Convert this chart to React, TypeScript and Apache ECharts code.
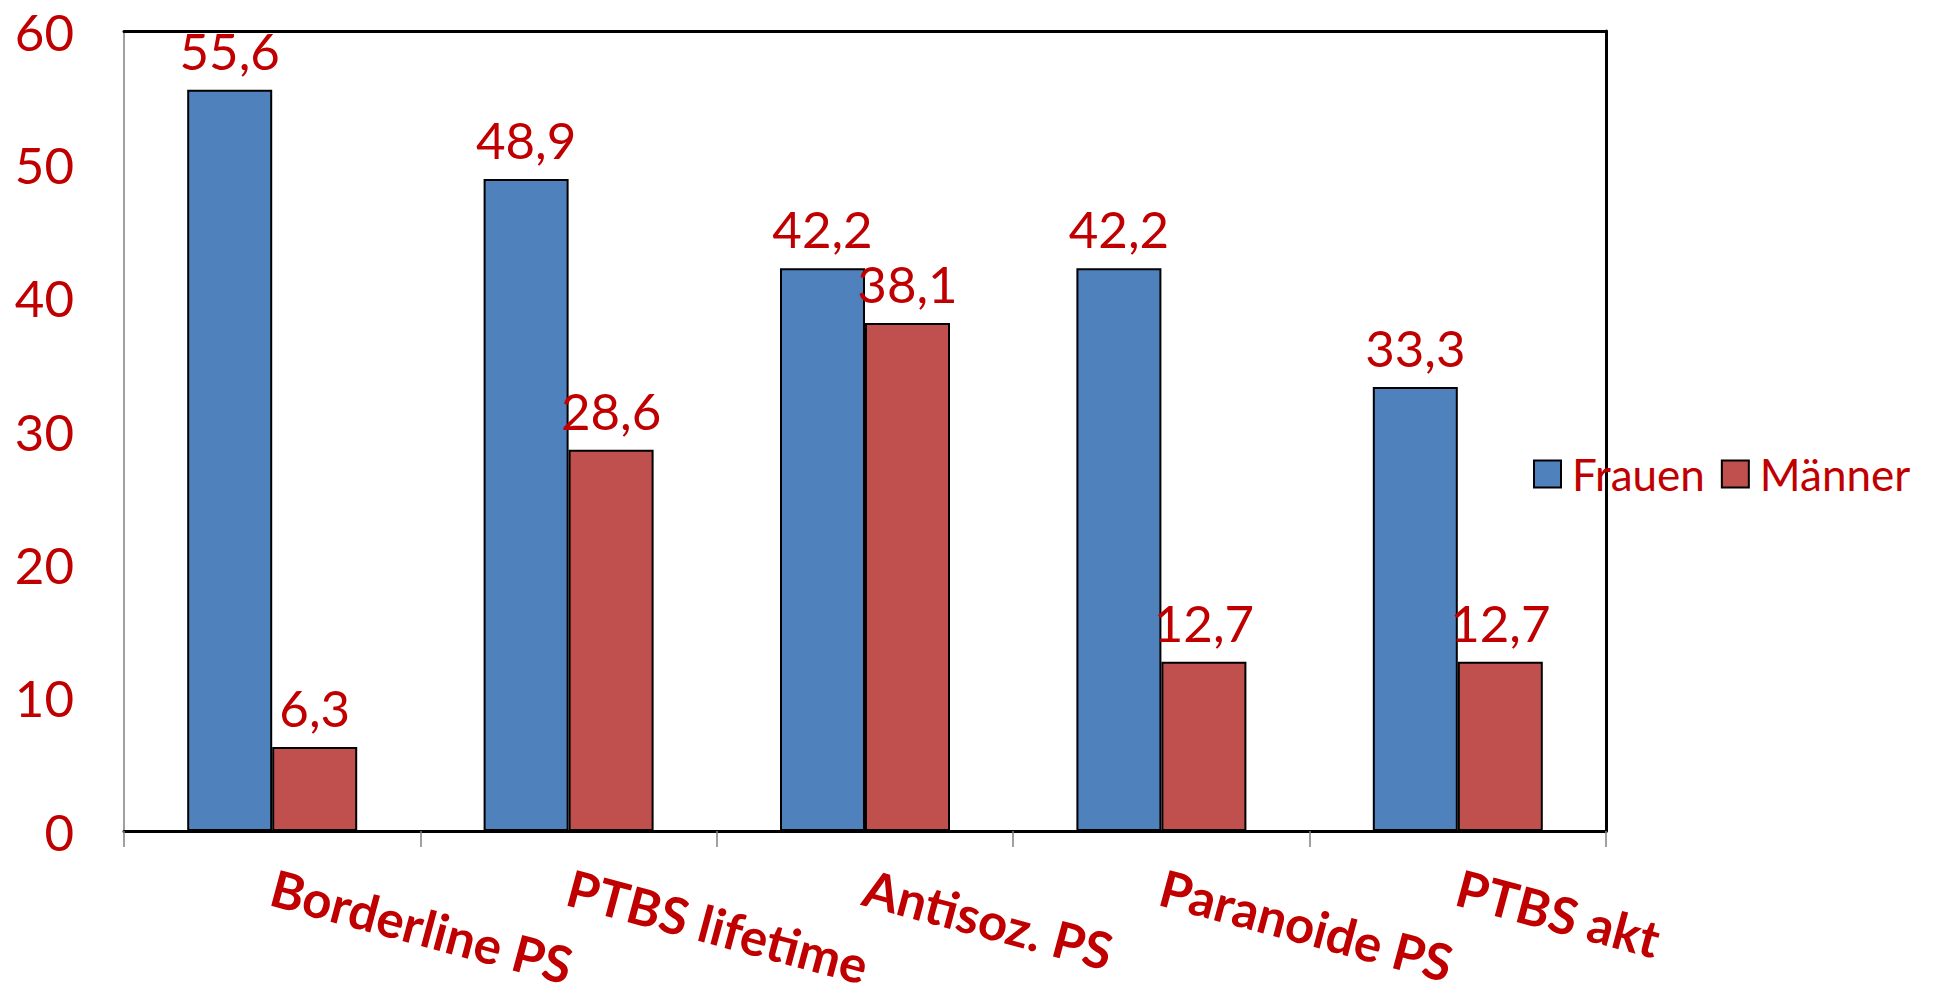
import React, { useEffect, useRef } from "react";
import * as echarts from "echarts";

const categories = ["Borderline PS", "PTBS lifetime", "Antisoz. PS", "Paranoide PS", "PTBS akt"];
const frauen = [55.6, 48.9, 42.2, 42.2, 33.3];
const maenner = [6.3, 28.6, 38.1, 12.7, 12.7];
const seriesNames = ["Frauen", "Männer"];
const yMin = 0;
const yMax = 60;
const yStep = 10;

const RED_TEXT = "#C00000";
const FONT = "Lato, 'Noto Sans', sans-serif";

const fmt = (v: number) => v.toFixed(1).replace(".", ",");

export default function App() {
  const ref = useRef<HTMLDivElement>(null);

  useEffect(() => {
    if (!ref.current) return;
    const chart = echarts.init(ref.current, null, { renderer: "svg" });

    const valueLabel = {
      show: true,
      position: "top" as const,
      distance: 14,
      color: RED_TEXT,
      fontFamily: FONT,
      fontSize: 51,
      formatter: (p: any) => fmt(p.value),
    };

    chart.setOption({
      animation: false,
      backgroundColor: "#ffffff",
      grid: {
        left: 124,
        right: 333,
        top: 31,
        bottom: 164,
        containLabel: false,
        outerBoundsMode: "none",
      },
      legend: {
        data: seriesNames,
        left: 1528,
        top: 447,
        width: 420,
        orient: "horizontal",
        icon: "rect",
        itemWidth: 27,
        itemHeight: 27,
        itemGap: 16,
        textStyle: {
          color: RED_TEXT,
          fontFamily: FONT,
          fontSize: 44,
          padding: [0, 0, 0, 6],
        },
      },
      xAxis: [
        {
          type: "category",
          data: categories,
          position: "bottom",
          axisLine: { show: true, onZero: false, lineStyle: { color: "#000000", width: 3 } },
          axisTick: { show: true, length: 16, lineStyle: { color: "#808080", width: 1.5 } },
          axisLabel: {
            interval: 0,
            rotate: -15,
            margin: 55,
            color: RED_TEXT,
            fontFamily: FONT,
            fontWeight: "bold",
            fontSize: 51,
            lineHeight: 40,
          },
          splitLine: { show: false },
        },
        {
          type: "category",
          data: categories,
          position: "top",
          axisLine: { show: true, onZero: false, lineStyle: { color: "#000000", width: 3 } },
          axisTick: { show: false },
          axisLabel: { show: false },
          splitLine: { show: false },
        },
      ],
      yAxis: [
        {
          type: "value",
          min: yMin,
          max: yMax,
          interval: yStep,
          position: "left",
          axisLine: { show: true, onZero: false, lineStyle: { color: "#A0A0A0", width: 2 } },
          axisTick: { show: false },
          axisLabel: {
            margin: 50,
            color: RED_TEXT,
            fontFamily: FONT,
            fontSize: 51,
            lineHeight: 44,
          },
          splitLine: { show: false },
        },
        {
          type: "value",
          min: yMin,
          max: yMax,
          interval: yStep,
          position: "right",
          axisLine: { show: true, onZero: false, lineStyle: { color: "#000000", width: 3 } },
          axisTick: { show: false },
          axisLabel: { show: false },
          splitLine: { show: false },
        },
      ],
      series: [
        {
          name: seriesNames[0],
          type: "bar",
          data: frauen,
          barWidth: 85,
          barGap: "0%",
          itemStyle: { color: "#4F81BD", borderColor: "#000000", borderWidth: 2 },
          label: valueLabel,
        },
        {
          name: seriesNames[1],
          type: "bar",
          data: maenner,
          barWidth: 85,
          barGap: "0%",
          itemStyle: { color: "#C0504D", borderColor: "#000000", borderWidth: 2 },
          label: valueLabel,
        },
      ],
    });

    return () => chart.dispose();
  }, []);

  return (
    <div
      ref={ref}
      style={{ position: "fixed", left: 0, top: 0, width: 1939, height: 995 }}
    />
  );
}
